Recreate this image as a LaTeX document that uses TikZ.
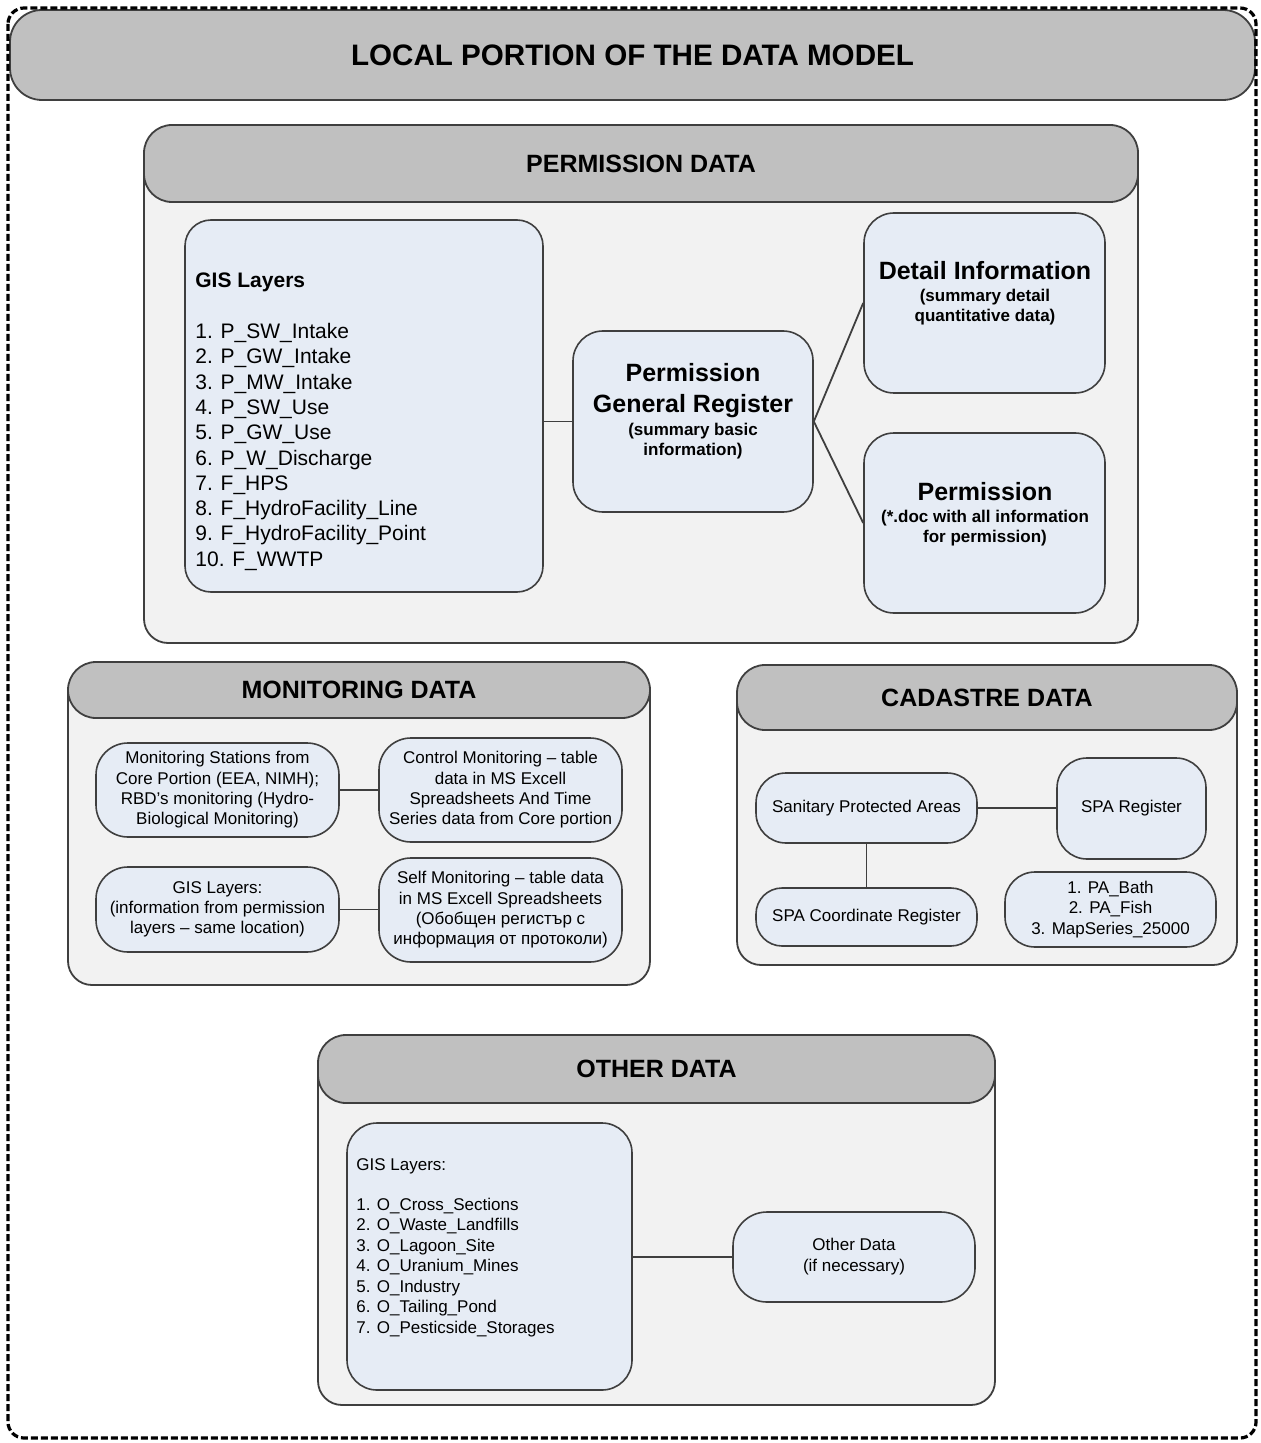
\documentclass[tikz,border=0pt]{standalone}
\usepackage{fontspec}
\setmainfont{Liberation Sans}
\usetikzlibrary{fit}

\definecolor{edgegray}{HTML}{3F3F3F}
\definecolor{headgray}{HTML}{C0C0C0}
\definecolor{panelgray}{HTML}{F2F2F2}
\definecolor{boxblue}{HTML}{E6ECF5}

\tikzset{
  frameline/.style={draw=black, line width=1.6pt, dash pattern=on 3.5pt off 1.5pt, rounded corners=8pt},
  titlebar/.style={draw=edgegray, fill=headgray, line width=0.9pt, rounded corners=16pt, inner sep=0pt},
  titletext/.style={inner sep=0pt, font=\fontsize{14.8}{17}\selectfont\bfseries},
  grphead/.style={draw=edgegray, fill=headgray, line width=0.9pt, rounded corners=14pt, inner sep=0pt},
  headtext/.style={inner sep=0pt, font=\fontsize{12.5}{15}\selectfont\bfseries},
  grpbody/.style={draw=edgegray, fill=panelgray, line width=0.9pt, rounded corners=12pt},
  item/.style={draw=edgegray, fill=boxblue, line width=0.8pt, rounded corners=13pt, inner sep=0pt},
  pill/.style={item, rounded corners=16pt},
  boxtext/.style={inner sep=0pt, align=center, font=\fontsize{8.5}{10.15}\selectfont},
  link/.style={draw=edgegray, line width=0.9pt},
  bigtxt/.style={anchor=base, inner sep=0pt, font=\fontsize{12.5}{15}\selectfont\bfseries},
  subtxt/.style={anchor=base, inner sep=0pt, font=\fontsize{8.5}{10}\selectfont\bfseries},
  listbig/.style={anchor=base west, inner sep=0pt, font=\fontsize{10.5}{12.6}\selectfont},
  listsmall/.style={anchor=base west, inner sep=0pt, font=\fontsize{8.5}{10.2}\selectfont},
}

\begin{document}
\begin{tikzpicture}[x=0.5pt, y=-0.5pt]
\useasboundingbox (0,0) rectangle (1260,1443);

% ---- title bar and dashed outer frame
\node[titlebar, fit={(10,10) (1255,100)}] (title) {};
\node[titletext] (title-t) at (title.center) {LOCAL PORTION OF THE DATA MODEL};
\draw[frameline] (8,8) rectangle (1256,1438);

% ---- permission data
\draw[grpbody] (144,163) -- (144,643) -- (1138,643) -- (1138,163);
\node[grphead, fit={(144,125) (1138,202)}] (permhead) {};
\node[headtext] (permhead-t) at (permhead.center) {PERMISSION DATA};

\node[item, fit={(185,220) (543,592)}] (pgis) {};
\node[listbig, font=\fontsize{10.5}{12.6}\selectfont\bfseries] (pgis-title) at (195,287.5) {GIS Layers};
\foreach \t [count=\i] in {P\_SW\_Intake, P\_GW\_Intake, P\_MW\_Intake, P\_SW\_Use, P\_GW\_Use,
    P\_W\_Discharge, F\_HPS, F\_HydroFacility\_Line, F\_HydroFacility\_Point, F\_WWTP}
  \node[listbig] (pgis-\i) at (195,{313.2+25.3*\i}) {\i. \t};

\node[item, rounded corners=15pt, fit={(573,331) (813,512)}] (preg) {};
\node[bigtxt] (preg-a) at (693,382) {Permission};
\node[bigtxt] (preg-b) at (693,413) {General Register};
\node[subtxt] (preg-c) at (693,436) {(summary basic};
\node[subtxt] (preg-d) at (693,455) {information)};

\node[item, rounded corners=15pt, fit={(864,213) (1105,393)}] (pdet) {};
\node[bigtxt] (pdet-a) at (985,280) {Detail Information};
\node[subtxt] (pdet-b) at (985,302) {(summary detail};
\node[subtxt] (pdet-c) at (985,322) {quantitative data)};

\node[item, rounded corners=15pt, fit={(864,433) (1105,613)}] (pdoc) {};
\node[bigtxt] (pdoc-a) at (985,500) {Permission};
\node[subtxt] (pdoc-b) at (985,522) {(*.doc with all information};
\node[subtxt] (pdoc-c) at (985,542) {for permission)};

\draw[link] (preg.west) -- (preg.west -| pgis.east);
\draw[link] (preg.east) -- (pdet.west);
\draw[link] (preg.east) -- (pdoc.west);

% ---- monitoring data
\draw[grpbody] (68,690) -- (68,985) -- (650,985) -- (650,690);
\node[grphead, fit={(68,662) (650,718)}] (monhead) {};
\node[headtext] (monhead-t) at (monhead.center) {MONITORING DATA};

\node[pill, fit={(96,743) (339,837)}] (m1) {};
\node[boxtext] (m1-t) at (m1.center)
  {Monitoring Stations from\\Core Portion (EEA, NIMH);\\RBD’s monitoring (Hydro-\\Biological Monitoring)};
\node[pill, fit={(379,738) (622,842)}] (m2) {};
\node[boxtext] (m2-t) at (m2.center)
  {Control Monitoring – table\\data in MS Excell\\Spreadsheets And Time\\Series data from Core portion};
\node[pill, fit={(96,867) (339,952)}] (m3) {};
\node[boxtext] (m3-t) at (m3.center)
  {GIS Layers:\\(information from permission\\layers – same location)};
\node[pill, fit={(379,858) (622,962)}] (m4) {};
\node[boxtext] (m4-t) at (m4.center)
  {Self Monitoring – table data\\in MS Excell Spreadsheets\\(Обобщен регистър с\\информация от протоколи)};

\draw[link] (m1.east) -- (m1.east -| m2.west);
\draw[link] (m3.east) -- (m3.east -| m4.west);

% ---- cadastre data
\draw[grpbody] (737,697) -- (737,965) -- (1237,965) -- (1237,697);
\node[grphead, fit={(737,665) (1237,730)}] (cadhead) {};
\node[headtext] (cadhead-t) at (cadhead.center) {CADASTRE DATA};

\node[item, rounded corners=15pt, fit={(756,773) (977,843)}] (c1) {};
\node[boxtext] (c1-t) at (c1.center) {Sanitary Protected Areas};
\node[item, rounded corners=15pt, fit={(1057,758) (1206,859)}] (c2) {};
\node[boxtext] (c2-t) at (c2.center) {SPA Register};
\node[item, fit={(756,888) (977,946)}] (c3) {};
\node[boxtext] (c3-t) at (c3.center) {SPA Coordinate Register};
\node[item, rounded corners=15pt, fit={(1005,872) (1216,947)}] (c4) {};
\node[boxtext] (c4-t) at (c4.center) {1. PA\_Bath\\2. PA\_Fish\\3. MapSeries\_25000};

\draw[link] (c1.east) -- (c1.east -| c2.west);
\draw[link] (c1.south) -- (c3.north);

% ---- other data
\draw[grpbody] (318,1069) -- (318,1405) -- (995,1405) -- (995,1069);
\node[grphead, fit={(318,1035) (995,1103)}] (othhead) {};
\node[headtext] (othhead-t) at (othhead.center) {OTHER DATA};

\node[item, rounded corners=15pt, fit={(347,1123) (632,1390)}] (o1) {};
\node[listsmall] (o1-title) at (356,1170) {GIS Layers:};
\foreach \t [count=\i] in {O\_Cross\_Sections, O\_Waste\_Landfills, O\_Lagoon\_Site, O\_Uranium\_Mines,
    O\_Industry, O\_Tailing\_Pond, O\_Pesticside\_Storages}
  \node[listsmall] (o1-\i) at (356,{1189.5+20.5*\i}) {\i. \t};

\node[item, rounded corners=17pt, fit={(733,1212) (975,1302)}] (o2) {};
\node[boxtext, font=\fontsize{8.5}{10.5}\selectfont] (o2-t) at (o2.center) {Other Data\\(if necessary)};

\draw[link] (o2.west) -- (o2.west -| o1.east);
\end{tikzpicture}
\end{document}
